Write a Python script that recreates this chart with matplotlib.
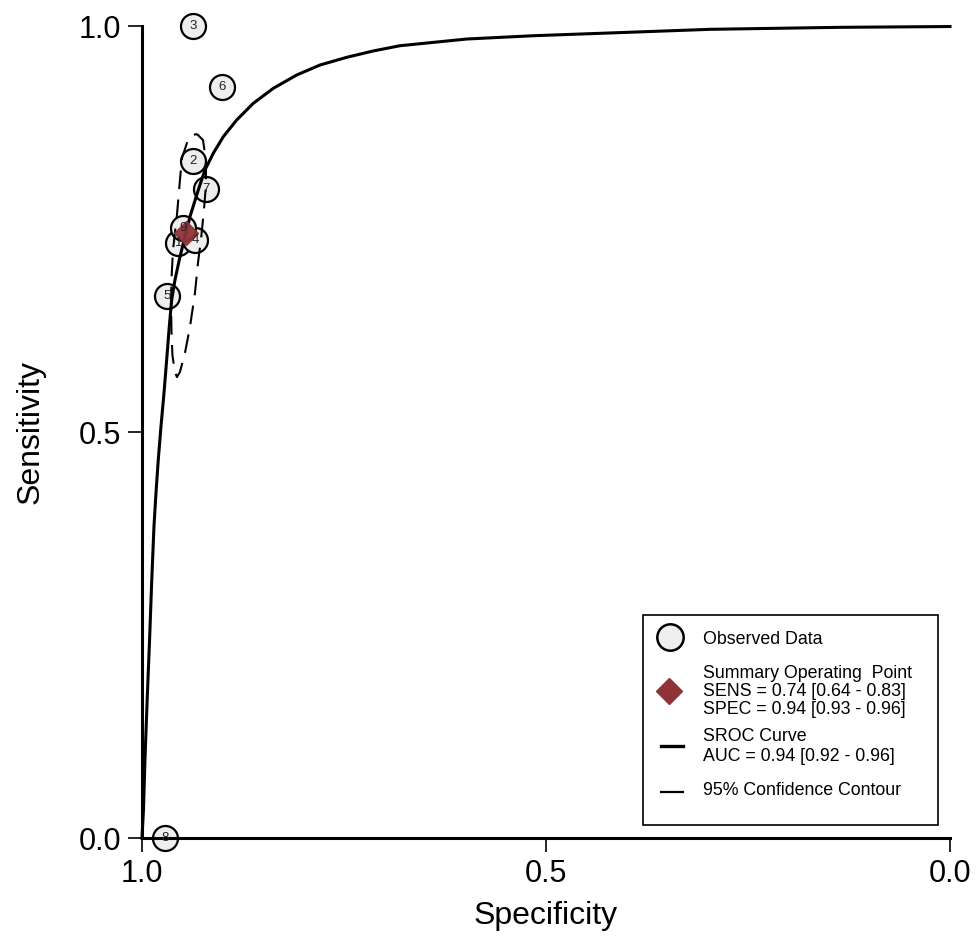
import matplotlib
matplotlib.use("Agg")
import matplotlib.pyplot as plt
from matplotlib.patches import Rectangle

plt.rcParams['font.family'] = ['Liberation Sans', 'DejaVu Sans']

# observed studies (specificity, sensitivity)
study_ids = ['1', '2', '3', '4', '5', '6', '7', '8', '9']
study_spec = [0.955, 0.9365, 0.9365, 0.934, 0.969, 0.901, 0.921, 0.971, 0.949]
study_sens = [0.733, 0.834, 1.0, 0.737, 0.6675, 0.9245, 0.799, 0.0, 0.751]

# summary operating point
sum_spec = 0.946
sum_sens = 0.745

# SROC curve
sroc_spec = [1.0, 0.99814, 0.99629, 0.99356, 0.99059, 0.98787, 0.98515, 0.98267,
             0.97983, 0.97649, 0.97277, 0.96943, 0.96621, 0.96324, 0.95916, 0.95384,
             0.94889, 0.94059, 0.93032, 0.92203, 0.91176, 0.89938, 0.88280, 0.86225,
             0.83750, 0.80854, 0.77970, 0.74666, 0.71411, 0.68069, 0.59814, 0.51572,
             0.43317, 0.29703, 0.13614, 0.0]
sroc_sens = [0.0, 0.03448, 0.09606, 0.16995, 0.24384, 0.31773, 0.38337, 0.42451,
             0.46552, 0.50653, 0.54766, 0.58867, 0.62968, 0.66256, 0.68719, 0.71182,
             0.73239, 0.76515, 0.79803, 0.82266, 0.84323, 0.86367, 0.88424, 0.90480,
             0.92325, 0.93966, 0.95197, 0.96145, 0.96921, 0.97574, 0.98399, 0.98805,
             0.99101, 0.99594, 0.99840, 0.99938]

# 95% confidence contour
cont_spec = [0.9319, 0.9245, 0.9208, 0.9208, 0.9233, 0.9270, 0.9307, 0.9344, 0.9406,
             0.9468, 0.9530, 0.9567, 0.9592, 0.9623, 0.9635, 0.9641, 0.9632, 0.9616,
             0.9567, 0.9530, 0.9505, 0.9431, 0.9369, 0.9319]
cont_sens = [0.8670, 0.8596, 0.8350, 0.8042, 0.7734, 0.7365, 0.7081, 0.6712, 0.6293,
             0.5973, 0.5739, 0.5677, 0.5739, 0.5948, 0.6256, 0.6626, 0.6933, 0.7241,
             0.7672, 0.8103, 0.8374, 0.8596, 0.8658, 0.8670]

fig = plt.figure(figsize=(9.79, 9.43), dpi=100)
ax = fig.add_axes([0.145, 0.1113, 0.8254, 0.8611])

ax.plot(sroc_spec, sroc_sens, color='black', lw=2.2, zorder=3, clip_on=False,
        solid_joinstyle='round')
ax.plot(cont_spec, cont_sens, color='black', lw=1.5, dashes=(9, 5), zorder=3)

ax.plot(study_spec, study_sens, 'o', ms=18, mfc='#eeeeee', mec='black', mew=1.6,
        zorder=2, clip_on=False)
ax.plot([sum_spec], [sum_sens], 'D', ms=12.5, color='#8f3339', alpha=0.95, zorder=4)
for sid, sx, sy in zip(study_ids, study_spec, study_sens):
    ax.text(sx, sy, sid, fontsize=9.5, color='#222222', ha='center', va='center', zorder=5)

ax.set_xlim(1.0, 0.0)
ax.set_ylim(0.0, 1.0)
ax.set_xticks([1.0, 0.5, 0.0])
ax.set_yticks([0.0, 0.5, 1.0])
ax.set_xticklabels(['1.0', '0.5', '0.0'])
ax.set_yticklabels(['0.0', '0.5', '1.0'])
ax.tick_params(labelsize=22, length=10, width=1.2, direction='out', pad=5)
ax.set_xlabel('Specificity', fontsize=23, labelpad=9)
ax.set_ylabel('Sensitivity', fontsize=23, labelpad=24)
for s in ['top', 'right']:
    ax.spines[s].set_visible(False)
for s in ['left', 'bottom']:
    ax.spines[s].set_linewidth(2.2)

# legend, drawn by hand
ax.add_patch(Rectangle((0.620, 0.016), 0.365, 0.2586, transform=ax.transAxes,
                       fill=False, ec='black', lw=1.2, zorder=6))
tr = ax.transAxes
ax.plot([0.6535], [0.2475], 'o', ms=19, mfc='#eeeeee', mec='black', mew=1.8,
        transform=tr, zorder=7, clip_on=False)
ax.plot([0.6526], [0.1814], 'D', ms=13.5, color='#8f3339', transform=tr, zorder=7)
ax.plot([0.6425, 0.6695], [0.1133, 0.1133], color='black', lw=2.4, transform=tr, zorder=7)
ax.plot([0.6425, 0.6695], [0.0568, 0.0568], color='black', lw=1.6, transform=tr, zorder=7)

lx = 0.6947
lfs = 12.8
ax.text(lx, 0.2447, 'Observed Data', fontsize=lfs, va='center', transform=tr)
ax.text(lx, 0.2028, 'Summary Operating  Point', fontsize=lfs, va='center', transform=tr)
ax.text(lx, 0.1801, 'SENS = 0.74 [0.64 - 0.83]', fontsize=lfs, va='center', transform=tr)
ax.text(lx, 0.1584, 'SPEC = 0.94 [0.93 - 0.96]', fontsize=lfs, va='center', transform=tr)
ax.text(lx, 0.1256, 'SROC Curve', fontsize=lfs, va='center', transform=tr)
ax.text(lx, 0.1000, 'AUC = 0.94 [0.92 - 0.96]', fontsize=lfs, va='center', transform=tr)
ax.text(lx, 0.0580, '95% Confidence Contour', fontsize=lfs, va='center', transform=tr)

fig.savefig('out.png', dpi=100)
